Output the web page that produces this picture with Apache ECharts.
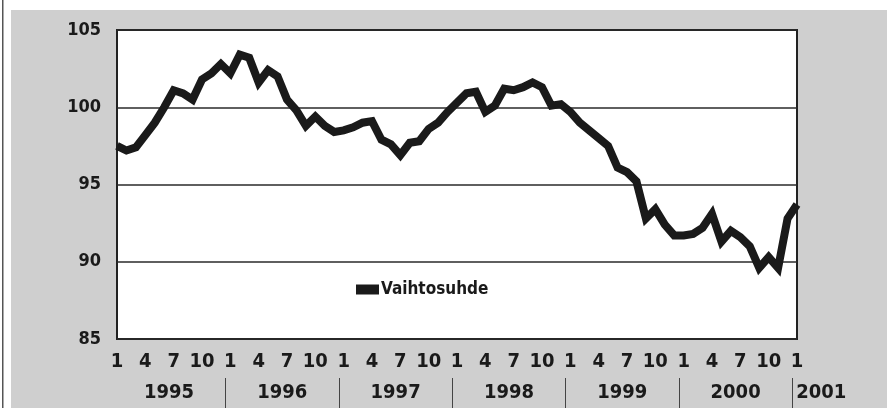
<!DOCTYPE html>
<html>
<head>
<meta charset="utf-8">
<script src="https://cdn.jsdelivr.net/npm/echarts@6/dist/echarts.min.js"></script>
<style>
html,body{margin:0;padding:0;background:#fff;}
#c{width:887px;height:408px;}
</style>
</head>
<body>
<div id="c"></div>
<script>
// Monthly index, Jan 1995 .. Jan 2001
var seriesName = 'Vaihtosuhde';
var vaihtosuhde = [
  97.5, 97.2, 97.4, 98.2, 99.0, 100.0, 101.1, 100.9, 100.5, 101.8, 102.2, 102.8,
  102.2, 103.4, 103.2, 101.6, 102.4, 102.0, 100.5, 99.8, 98.8, 99.4, 98.8, 98.4,
  98.5, 98.7, 99.0, 99.1, 97.9, 97.6, 96.9, 97.7, 97.8, 98.6, 99.0, 99.7,
  100.3, 100.9, 101.0, 99.7, 100.1, 101.2, 101.1, 101.3, 101.6, 101.3, 100.1, 100.2,
  99.7, 99.0, 98.5, 98.0, 97.5, 96.1, 95.8, 95.2, 92.8, 93.4, 92.4, 91.7,
  91.7, 91.8, 92.2, 93.1, 91.3, 92.0, 91.6, 91.0, 89.6, 90.3, 89.6, 92.8,
  93.7
];
var monthLabels = ['1', '4', '7', '10'];
var yearLabels = ['1995', '1996', '1997', '1998', '1999', '2000', '2001'];
var yTicks = [85, 90, 95, 100, 105];

var FONT = '"Liberation Sans Narrow", "DejaVu Sans Condensed", "Roboto", sans-serif';
var data = vaihtosuhde.map(function (v, i) { return [i, v]; });
var nMonths = vaihtosuhde.length - 1;
var yearCenters = [], yearSeps = [];
for (var k = 0; k < 6; k++) { yearCenters.push(k * 12 + 5.5); yearSeps.push(k * 12 + 11.5); }

var chart = echarts.init(document.getElementById('c'), null, {renderer: 'canvas'});
var option = {
  animation: false,
  backgroundColor: '#ffffff',
  grid: {left: 117, top: 30, width: 680, height: 309, show: true,
         backgroundColor: '#ffffff', borderColor: '#222', borderWidth: 2},
  legend: {
    show: true, left: 351, top: 276, icon: 'rect', itemWidth: 23, itemHeight: 10, itemGap: 4,
    data: [seriesName],
    textStyle: {fontFamily: FONT, fontWeight: 'bold', fontSize: 17, color: '#1a1a1a', padding: [0,0,0,-3]}
  },
  xAxis: [{
    type: 'value', min: 0, max: nMonths, interval: 3,
    axisLine: {show: false}, axisTick: {show: false}, splitLine: {show: false},
    axisLabel: {
      margin: 13, fontFamily: FONT, fontWeight: 'bold', fontSize: 20, color: '#1a1a1a',
      formatter: function (v) { return monthLabels[(v % 12) / 3]; }
    }
  }, {
    type: 'value', min: 0, max: nMonths, position: 'bottom', offset: 39,
    axisLine: {show: false}, splitLine: {show: false},
    axisTick: {show: true, customValues: yearSeps, length: 31, lineStyle: {color: '#444', width: 1}},
    axisLabel: {
      show: true, customValues: yearCenters, margin: 5,
      fontFamily: FONT, fontWeight: 'bold', fontSize: 20, color: '#1a1a1a',
      formatter: function (v) { return yearLabels[Math.round((v - 5.5) / 12)]; }
    }
  }],
  yAxis: {
    type: 'value', min: yTicks[0], max: yTicks[yTicks.length - 1], interval: 5,
    axisLine: {show: false}, axisTick: {show: false},
    splitLine: {show: true, lineStyle: {color: '#2a2a2a', width: 1.6}},
    axisLabel: {margin: 16, fontFamily: FONT, fontWeight: 'bold', fontSize: 18, color: '#1a1a1a'}
  },
  series: [{
    name: seriesName, type: 'line', data: data, showSymbol: false, symbol: 'none',
    color: '#1a1a1a',
    lineStyle: {color: '#1a1a1a', width: 8, join: 'miter', cap: 'butt'},
    z: 5
  }]
};
chart.setOption(option);

// background halftone area + frame line, and the partial-year label
var p = chart.convertToPixel({xAxisIndex: 1}, 71.5);
chart.setOption({
  graphic: [
    {type: 'rect', z: -100, silent: true, shape: {x: 11, y: 10, width: 887, height: 408}, style: {fill: '#cfcfcf'}},
    {type: 'rect', z: -100, silent: true, shape: {x: 2, y: 0, width: 1.5, height: 408}, style: {fill: '#555'}},
    {type: 'text', z: 10, x: p + 4, y: 383, style: {text: yearLabels[6], fontFamily: FONT, fontWeight: 'bold', fontSize: 20, fill: '#1a1a1a', textAlign: 'left', textVerticalAlign: 'top'}}
  ]
});
</script>
</body>
</html>
